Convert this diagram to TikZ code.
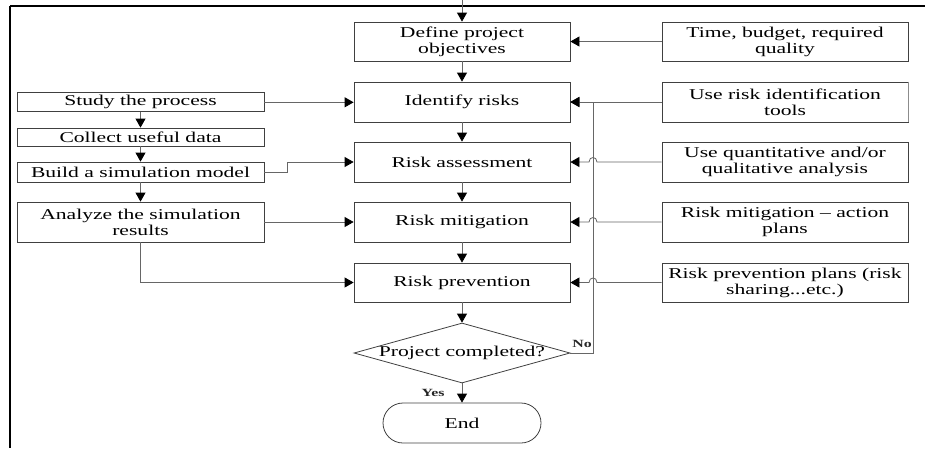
\documentclass[tikz,border=0pt]{standalone}
\usepackage{fontspec}
\setmainfont[FakeStretch=1.44]{Liberation Serif}
\usetikzlibrary{arrows.meta,shapes.geometric,calc}
\begin{document}
\begin{tikzpicture}[x=1pt,y=-1pt,
  txt/.style={font=\fontsize{15}{16}\selectfont, text=black},
  box/.style={txt, draw=black!75, line width=0.8pt, inner sep=1pt, align=center, minimum height=40pt},
  mainbox/.style={box, minimum width=216pt},
  sidebox/.style={box, minimum width=246pt},
  leftbox/.style={box, minimum width=247pt},
  conn/.style={draw=black!60, line width=0.8pt},
  arr/.style={conn, -{Triangle[length=9pt,width=10pt,color=black,fill=black]}},
  lab/.style={font=\fontsize{11}{12}\selectfont\bfseries, text=black!85, inner sep=0pt}
]
\useasboundingbox (0,0) rectangle (925,448);
% frame
\draw[line width=2pt, black] (10,6) -- (925,6);
\draw[line width=2pt, black] (10,6) -- (10,448);

% main column
\coordinate (top) at (462,0);
\node[mainbox, minimum height=39pt] (define) at (462,41.5) {Define project\\objectives};
\node[mainbox] (ident)  at (462,102) {Identify risks};
\node[mainbox] (assess) at (462,162) {Risk assessment};
\node[mainbox] (mitig)  at (462,222) {Risk mitigation};
\node[mainbox, minimum height=39pt] (prev) at (462,282.5) {Risk prevention};
\node[diamond, draw=black!75, line width=0.8pt, minimum width=216pt, minimum height=60pt, inner sep=0pt] (dec) at (462,353) {};
\node[txt] (dectxt) at (dec) {Project completed?};
\node[box, rounded corners=20pt, minimum width=158pt] (end) at (462,423) {End};

% right column
\node[sidebox, minimum height=39pt] (r1) at (785,41.5) {Time, budget, required\\quality};
\node[sidebox] (r2) at (785,102) {Use risk identification\\tools};
\draw[black!45, line width=1.6pt] (r2.north east) -- (r2.south east);
\node[sidebox] (r3) at (785,162) {Use quantitative and/or\\qualitative analysis};
\node[sidebox] (r4) at (785,222) {Risk mitigation – action\\plans};
\node[sidebox, minimum height=39pt] (r5) at (785,282.5) {Risk prevention plans (risk\\sharing...etc.)};

% left column
\node[leftbox, minimum height=19pt] (study)   at (140.5,102.3) {Study the process};
\node[leftbox, minimum height=18pt] (collect) at (140.5,137) {Collect useful data};
\node[leftbox, minimum height=20pt] (build)   at (140.5,172) {Build a simulation model};
\node[leftbox] (analyze) at (140.5,222) {Analyze the simulation\\results};

% main flow
\draw[arr] (top) -- (define.north);
\draw[arr] (define) -- (ident);
\draw[arr] (ident) -- (assess);
\draw[arr] (assess) -- (mitig);
\draw[arr] (mitig) -- (prev);
\draw[arr] (prev.south) -- (dec.north);
\draw[arr] (dec.south) -- (end.north);
\node[lab] (yes) at (433,393) {Yes};
\node[lab] (no) at (582,344) {No};

% feedback loop
\coordinate (fb1) at (593,353);
\coordinate (fb2) at (593,102);
\draw[arr] (dec.east) -- (fb1) -- (fb2) -- (ident.east);

% right inputs
\draw[arr] (r1.west) -- (define.east);
\draw[arr] (r2.west) -- (ident.east);
\draw[arr] (r3.west) -- (597,162) .. controls (597,156) and (589,156) .. (589,162) -- (assess.east);
\draw[arr] (r4.west) -- (597,222) .. controls (597,216) and (589,216) .. (589,222) -- (mitig.east);
\draw[arr] (r5.west) -- (597,282.5) .. controls (597,276.5) and (589,276.5) .. (589,282.5) -- (prev.east);

% left flow
\draw[arr] (study) -- (collect);
\draw[arr] (collect) -- (build);
\draw[arr] (build) -- (analyze);
\draw[arr] (study.east) -- (study.east -| ident.west);
\coordinate (bj1) at (287,172);
\coordinate (bj2) at (287,162);
\draw[arr] (build.east) -- (bj1) -- (bj2) -- (assess.west);
\draw[arr] (analyze.east) -- (analyze.east -| mitig.west);
\coordinate (aj) at (140.5,282.5);
\draw[arr] (analyze.south) -- (aj) -- (prev.west);
\end{tikzpicture}
\end{document}
